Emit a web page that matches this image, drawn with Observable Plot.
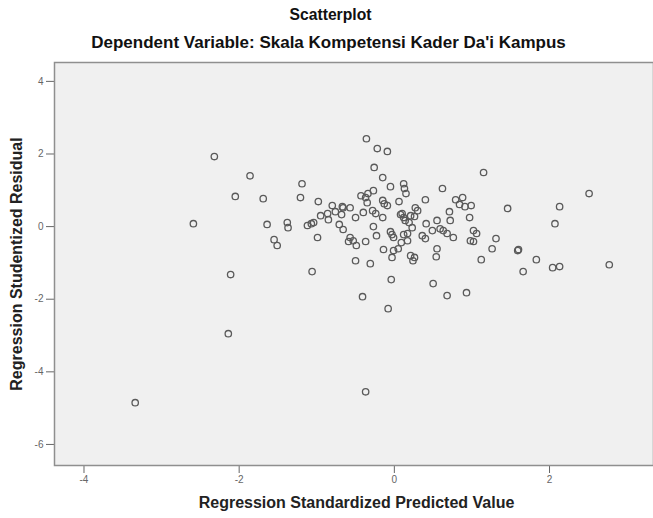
<!DOCTYPE html>
<html>
<head>
<meta charset="utf-8">
<script src="https://cdn.jsdelivr.net/npm/d3@7"></script>
<script src="https://cdn.jsdelivr.net/npm/@observablehq/plot@0.6"></script>
<style>
  html, body { margin: 0; padding: 0; background: #fff; }
  body { width: 653px; height: 518px; overflow: hidden; font-family: "Liberation Sans", Arial, sans-serif; }
  .title { height: 29px; line-height: 29px; text-align: center; font-weight: bold; font-size: 15.7px; color: #111; padding-left: 8px; }
  .subtitle { height: 27px; line-height: 27px; text-align: center; font-weight: bold; font-size: 17px; color: #111; padding-left: 4px; }
  #chart svg { display: block; }
</style>
</head>
<body>
<div class="title">Scatterplot</div>
<div class="subtitle">Dependent Variable: Skala Kompetensi Kader Da'i Kampus</div>
<div id="chart"></div>
<script>
const titleText = "Scatterplot";
const subtitleText = "Dependent Variable: Skala Kompetensi Kader Da'i Kampus";
const xLabel = "Regression Standardized Predicted Value";
const yLabel = "Regression Studentized Residual";

const xTicks = [-4, -2, 0, 2];
const yTicks = [4, 2, 0, -2, -4, -6];

// Regression Standardized Predicted Value
const predicted = [
  -2.32, -1.86, -2.05, -1.69, -1.19, -1.21, -2.59, -1.64, -1.38, -1.37,
  -1.55, -1.51, -0.98, -0.80, -0.67, -0.57, -0.95, -0.86, -0.85, -0.76,
  -0.68, -1.12, -1.07, -1.04, -0.99, -0.71, -0.66, -0.59, -2.11, -1.06,
  -0.36, -0.22, -0.09, -0.26, 1.15, -0.15, -0.05, 0.12, 0.13, 0.15,
  0.62, -0.27, -0.43, -0.37, -0.35, -0.15, -0.13, -0.09, 0.06, 0.40,
  0.79, 0.88, 0.84, 0.91, 0.99, 1.46, -0.66, -0.40, -0.28, -0.24,
  0.71, 0.72, 0.97, -0.50, -0.15, 0.10, 0.12, 0.14, 0.27, 0.30,
  0.26, 0.19, 0.23, 0.41, 0.55, 0.59, -0.27, -0.05, -0.03, -0.01,
  -0.23, 0.12, 0.17, 0.36, 0.49, 0.63, 0.68, 0.76, 1.02, 1.06,
  0.98, 1.02, 1.31, 1.59, -0.57, -0.53, -0.49, -0.37, 0.09, 0.17,
  0.40, -0.14, -0.01, 0.05, 0.55, 0.21, 0.26, 0.24, 0.54, 1.26,
  1.12, -0.50, -0.31, -0.03, -0.04, 0.50, 0.93, 0.68, -0.41, 2.51,
  2.13, 2.07, 1.60, 1.83, 1.66, 2.04, 2.13, 2.77, -0.08, -2.14,
  -3.34, -0.37, -0.34, 0.08, 0.21
];

// Regression Studentized Residual
const residual = [
  1.93, 1.40, 0.83, 0.77, 1.18, 0.80, 0.08, 0.06, 0.11, -0.03,
  -0.36, -0.52, 0.69, 0.58, 0.55, 0.52, 0.30, 0.36, 0.19, 0.41,
  0.33, 0.03, 0.08, 0.11, -0.30, 0.06, -0.08, -0.41, -1.32, -1.24,
  2.42, 2.15, 2.07, 1.63, 1.49, 1.35, 1.10, 1.18, 1.05, 0.91,
  1.05, 0.99, 0.85, 0.80, 0.66, 0.72, 0.63, 0.58, 0.69, 0.74,
  0.74, 0.80, 0.61, 0.55, 0.58, 0.50, 0.52, 0.39, 0.44, 0.36,
  0.41, 0.17, 0.25, 0.25, 0.25, 0.36, 0.25, 0.17, 0.52, 0.44,
  0.28, 0.11, -0.03, 0.08, 0.17, -0.06, 0.00, -0.14, -0.22, -0.30,
  -0.25, -0.22, -0.19, -0.25, -0.11, -0.11, -0.19, -0.30, -0.11, -0.19,
  -0.39, -0.41, -0.33, -0.66, -0.30, -0.39, -0.52, -0.41, -0.44, -0.39,
  -0.33, -0.63, -0.66, -0.61, -0.61, -0.80, -0.85, -0.94, -0.83, -0.61,
  -0.91, -0.94, -1.02, -0.85, -1.46, -1.57, -1.82, -1.90, -1.93, 0.91,
  0.55, 0.08, -0.63, -0.91, -1.24, -1.13, -1.10, -1.05, -2.26, -2.95,
  -4.85, -4.55, 0.91, 0.33, 0.30
];

const data = predicted.map((x, i) => ({x, y: residual[i]}));
const fmt = d => String(d);

const chart = Plot.plot({
  width: 653,
  height: 462,
  marginTop: 6,
  marginBottom: 53,
  marginLeft: 54,
  marginRight: 0,
  style: {background: "#fff", color: "#555", fontFamily: "'Liberation Sans', Arial, sans-serif"},
  x: {domain: [-4.38, 3.34]},
  y: {domain: [-6.58, 4.52]},
  marks: [
    Plot.frame({fill: "#f0f0f0", stroke: "none"}),
    Plot.axisX({ticks: xTicks, tickFormat: fmt, tickSize: 8, tickPadding: 2, fontSize: 10, label: null, stroke: "#666", fill: "#666"}),
    Plot.axisY({ticks: yTicks, tickFormat: fmt, tickSize: 8, tickPadding: 3, fontSize: 10, label: null, stroke: "#666", fill: "#666"}),
    Plot.dot(data, {x: "x", y: "y", r: 3.2, stroke: "#5a5a5a", strokeWidth: 1.3, fill: "none"}),
    Plot.frame({stroke: "#8f8f8f", strokeWidth: 1.5, fill: "none"}),
    Plot.text([xLabel], {frameAnchor: "bottom", dy: 42, dx: 2.5, text: d => d, textAnchor: "middle", fontWeight: "bold", fontSize: 16, fill: "#222"}),
    Plot.text([yLabel], {frameAnchor: "left", rotate: -90, dx: -38, text: d => d, textAnchor: "middle", fontWeight: "bold", fontSize: 16, fill: "#222"})
  ]
});
document.getElementById("chart").appendChild(chart);
</script>
</body>
</html>
